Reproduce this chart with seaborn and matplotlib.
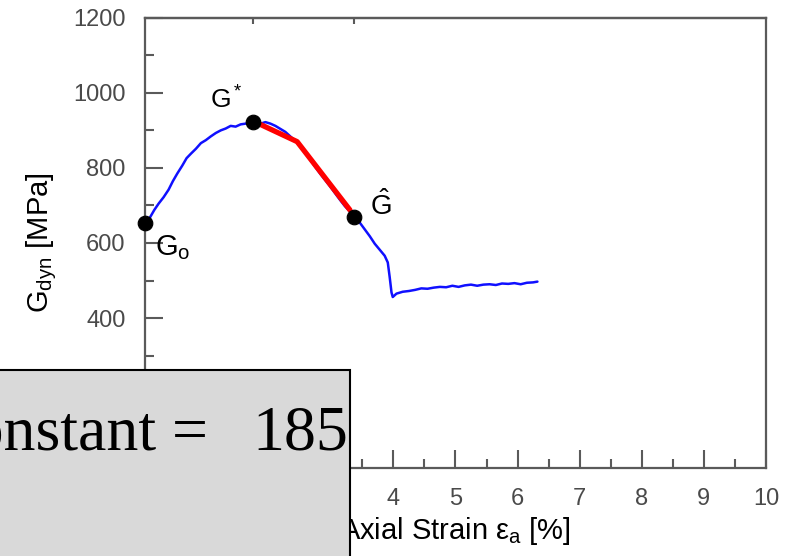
import matplotlib.pyplot as plt
import matplotlib.patches as mpatches
import seaborn as sns

# blue measured curve
strain = [0.00, 0.08, 0.15, 0.22, 0.30, 0.38, 0.45, 0.52, 0.60, 0.67, 0.74, 0.82, 0.90, 0.98,
          1.06, 1.14, 1.22, 1.30, 1.38, 1.46, 1.54, 1.62, 1.70, 1.78, 1.86, 1.94, 2.02, 2.10,
          2.18, 2.26, 2.34, 2.42, 2.50, 2.58, 2.66, 2.74, 2.82, 2.90, 2.98, 3.06, 3.14, 3.22,
          3.30, 3.38, 3.46, 3.54, 3.62, 3.70, 3.78, 3.86, 3.91, 3.94, 3.97, 3.99, 4.05, 4.15,
          4.25, 4.35, 4.45, 4.55, 4.65, 4.75, 4.85, 4.95, 5.05, 5.15, 5.25, 5.35, 5.45, 5.55,
          5.65, 5.75, 5.85, 5.95, 6.05, 6.15, 6.25, 6.32]
g_dyn = [653, 668, 688, 705, 722, 742, 765, 785, 806, 826, 838, 851, 866, 874,
         884, 893, 900, 905, 912, 910, 916, 918, 921, 924, 918, 922, 918, 912,
         904, 896, 884, 872, 858, 840, 822, 803, 785, 768, 751, 733, 715, 698,
         684, 668, 654, 636, 618, 598, 582, 566, 548, 510, 468, 456, 465, 470,
         472, 475, 479, 478, 481, 483, 482, 486, 483, 487, 489, 486, 489, 490,
         488, 492, 491, 493, 490, 494, 495, 497]

# red fitted segment
fit_strain = [1.74, 2.45, 3.30]
fit_g = [925, 870, 688]

# marked points G0, G*, G-hat
point_strain = [0.0, 1.74, 3.37]
point_g = [653, 923, 669]
point_labels = [r"G$_\mathrm{o}$", r"G$^*$", r"$\hat{\mathrm{G}}$"]

x_ticks = [0, 1, 2, 3, 4, 5, 6, 7, 8, 9, 10]
y_ticks = [0, 200, 400, 600, 800, 1000, 1200]

sns.set_theme(style="ticks")
plt.rcParams["font.family"] = ["Liberation Sans", "DejaVu Sans"]
plt.rcParams["mathtext.fontset"] = "custom"
plt.rcParams["mathtext.rm"] = "Liberation Sans"
plt.rcParams["mathtext.it"] = "Liberation Sans:italic"
plt.rcParams["mathtext.sf"] = "Liberation Sans"

fig = plt.figure(figsize=(7.88, 5.56), dpi=100)
ax = fig.add_axes([0.184, 0.158, 0.788, 0.810])

sns.lineplot(x=strain, y=g_dyn, color="#1010ff", linewidth=1.8, sort=False,
             estimator=None, ax=ax, zorder=2)
sns.lineplot(x=fit_strain, y=fit_g, color="#ff0000", linewidth=3.8, sort=False,
             estimator=None, ax=ax, zorder=3)
sns.scatterplot(x=point_strain, y=point_g, color="black", s=110, edgecolor="black",
                ax=ax, zorder=4, clip_on=False)

offsets = [(7, -23), (-31, 9.5), (11.5, 1.5)]
sizes = [21, 19, 20]
for px, py, lab, off, fs in zip(point_strain, point_g, point_labels, offsets, sizes):
    ax.annotate(lab, (px, py), xytext=off, textcoords="offset points",
                fontsize=fs, color="black", ha="left", va="baseline")

ax.set_xlim(0, 10)
ax.set_ylim(0, 1200)
ax.set_xticks(x_ticks)
ax.set_yticks(y_ticks)
ax.set_xticks([v + 0.5 for v in x_ticks[:-1]], minor=True)
ax.set_yticks([v + 100 for v in y_ticks[:-1]], minor=True)

spine_col = "#5a5a5a"
for s in ax.spines.values():
    s.set_visible(True)
    s.set_color(spine_col)
    s.set_linewidth(1.6)
ax.tick_params(which="major", direction="in", length=13, width=1.5, color=spine_col,
               labelsize=17, labelcolor="#4a4a4a", pad=14)
ax.tick_params(which="minor", direction="in", length=6.5, width=1.5, color=spine_col)

top = ax.secondary_xaxis("top")
top.set_xticks(point_strain[1:])
top.set_xticklabels([])
top.tick_params(direction="in", length=4, width=1.5, color=spine_col)
top.spines["top"].set_color(spine_col)
top.spines["top"].set_linewidth(1.6)

ax.set_xlabel("Axial Strain ε$_\\mathrm{a}$ [%]", fontsize=21, color="black", labelpad=4)
ax.set_ylabel(r"G$_\mathrm{dyn}$ [MPa]", fontsize=21, color="black", labelpad=10)

# grey overlay box in the lower left corner
box = mpatches.Rectangle((-0.01, -0.01), 350 / 788 + 0.01, 186 / 556 + 0.01,
                         transform=fig.transFigure, facecolor="#d9d9d9",
                         edgecolor="black", linewidth=1.5, zorder=10)
fig.add_artist(box)
base_y = (556 - 450) / 556
for txt, xpx, ha in [("Constant", 157, "right"), ("=", 190, "center"), ("185", 252, "left")]:
    t = fig.text(xpx / 788, base_y, txt, fontsize=46, family="Liberation Serif",
                 ha=ha, va="baseline", color="black", zorder=11)
    t.set_clip_path(box)

fig.savefig("out.png", dpi=100)
